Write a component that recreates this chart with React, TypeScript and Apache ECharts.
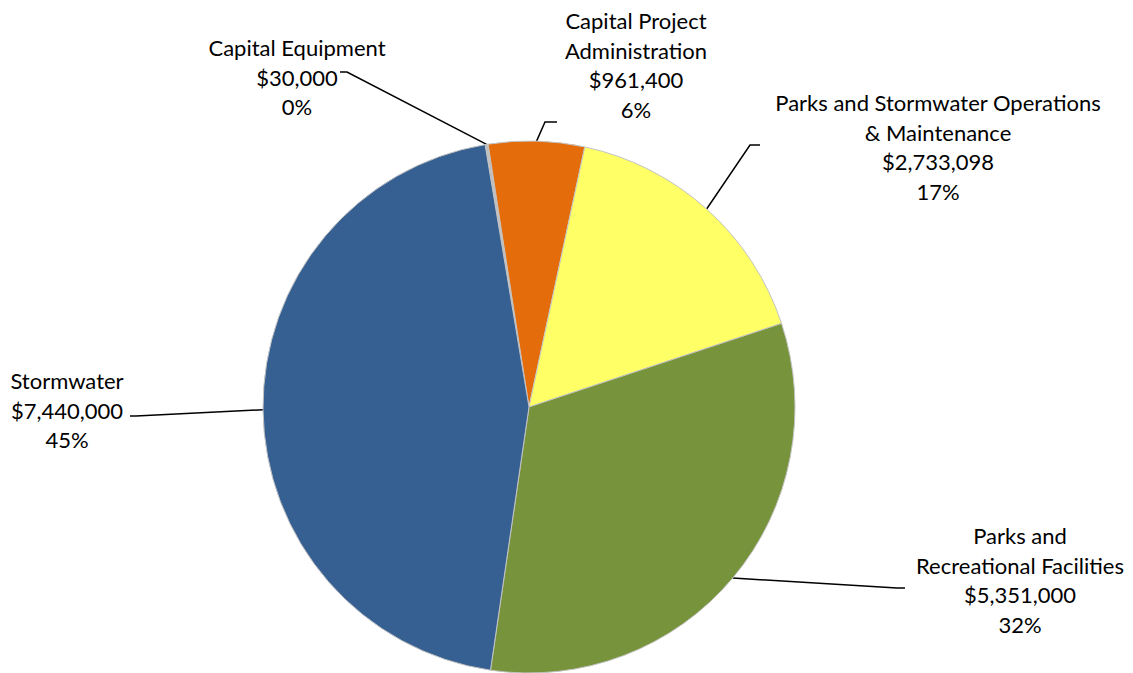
import React, { useEffect, useRef } from "react";
import * as echarts from "echarts";

const categories = [
  "Capital Equipment",
  "Capital Project\nAdministration",
  "Parks and Stormwater Operations\n& Maintenance",
  "Parks and\nRecreational Facilities",
  "Stormwater",
];
const values = [30000, 961400, 2733098, 5351000, 7440000];
const colors = ["#BFBFBF", "#E46C0A", "#FFFF66", "#77933C", "#376092"];

// label layout: text block centre and leader-line end / elbow
const labelCenters = [
  [297, 77],
  [636, 65],
  [938, 147],
  [1020, 580],
  [67, 410],
];
const lineEnds = [
  [340, 72],
  [557, 122],
  [760, 145],
  [905, 588],
  [130, 416],
];
const elbows = [
  [347, 72],
  [545, 122],
  [750, 145],
  [897, 588],
  [136, 416],
];

export default function App() {
  const ref = useRef<HTMLDivElement>(null);
  useEffect(() => {
    if (!ref.current) return;
    const chart = echarts.init(ref.current, undefined, { renderer: "svg" });
    chart.setOption({
      animation: false,
      backgroundColor: "#ffffff",
      series: [
        {
          type: "pie",
          center: [529, 407],
          radius: 266,
          startAngle: 99.5,
          clockwise: true,
          percentPrecision: 0,
          avoidLabelOverlap: false,
          itemStyle: { borderColor: "#c4c4c4", borderWidth: 1 },
          data: categories.map((c, i) => ({
            name: c,
            value: values[i],
            itemStyle: { color: colors[i] },
          })),
          label: {
            show: true,
            position: "outside",
            color: "#000",
            fontFamily: "Lato, 'Open Sans', sans-serif",
            fontSize: 22,
            lineHeight: 29.5,
            align: "center",
            formatter: (p: any) =>
              `${p.name}\n$${Number(p.value).toLocaleString("en-US")}\n${p.percent}%`,
          },
          labelLine: {
            show: true,
            length: 20,
            length2: 10,
            lineStyle: { color: "#000", width: 1.5 },
          },
          labelLayout: (params: any) => {
            const i = params.dataIndex;
            const p0 =
              params.labelLinePoints && params.labelLinePoints[0]
                ? params.labelLinePoints[0]
                : elbows[i];
            return {
              x: labelCenters[i][0],
              y: labelCenters[i][1],
              align: "center",
              verticalAlign: "middle",
              labelLinePoints: [p0, elbows[i], lineEnds[i]],
            };
          },
        },
      ],
    });
    return () => chart.dispose();
  }, []);
  return (
    <div
      ref={ref}
      style={{ position: "fixed", left: 0, top: 0, width: 1133, height: 673 }}
    />
  );
}
